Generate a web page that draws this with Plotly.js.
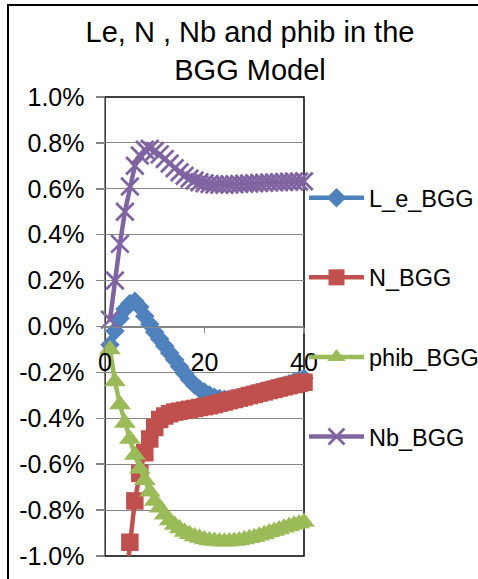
<!DOCTYPE html>
<html>
<head>
<meta charset="utf-8">
<script src="https://cdn.plot.ly/plotly-3.0.1.min.js"></script>
<style>
  html, body { margin: 0; padding: 0; background: #ffffff; }
  #chart { width: 478px; height: 579px; }
</style>
</head>
<body>
<div id="chart"></div>
<script>
// ---- data (values in percent) ----
const periods = [1,2,3,4,5,6,7,8,9,10,11,12,13,14,15,16,17,18,19,20,21,22,23,24,25,26,27,28,29,30,31,32,33,34,35,36,37,38,39,40];

const L_e_BGG = [-0.08,-0.02,0.035,0.075,0.10,0.11,0.085,0.045,0.01,-0.025,
                 -0.055,-0.085,-0.115,-0.145,-0.175,-0.205,-0.232,-0.255,-0.272,-0.285,
                 -0.298,-0.308,-0.314,-0.317,-0.317,-0.315,-0.310,-0.305,-0.299,-0.293,
                 -0.287,-0.281,-0.275,-0.269,-0.262,-0.256,-0.249,-0.241,-0.233,-0.225];

const N_BGG = [null,null,null,-1.15,-0.94,-0.76,-0.64,-0.55,-0.49,-0.44,
               -0.405,-0.39,-0.38,-0.373,-0.369,-0.365,-0.361,-0.357,-0.353,-0.349,
               -0.345,-0.340,-0.334,-0.329,-0.323,-0.318,-0.312,-0.307,-0.301,-0.296,
               -0.290,-0.285,-0.279,-0.274,-0.268,-0.263,-0.258,-0.253,-0.248,-0.243];

const phib_BGG = [-0.10,-0.24,-0.34,-0.42,-0.49,-0.56,-0.62,-0.67,-0.72,-0.76,
                  -0.79,-0.82,-0.845,-0.865,-0.88,-0.895,-0.905,-0.915,-0.922,-0.928,
                  -0.932,-0.935,-0.937,-0.938,-0.937,-0.935,-0.932,-0.928,-0.923,-0.918,
                  -0.912,-0.905,-0.898,-0.891,-0.884,-0.877,-0.870,-0.864,-0.858,-0.852];

const Nb_BGG = [0.03,0.20,0.36,0.50,0.61,0.70,0.745,0.77,0.775,0.765,
                0.75,0.73,0.71,0.69,0.672,0.657,0.645,0.636,0.629,0.624,
                0.621,0.619,0.618,0.618,0.619,0.620,0.621,0.622,0.623,0.624,
                0.625,0.626,0.627,0.628,0.629,0.630,0.631,0.632,0.632,0.633];

const seriesNames = ['L_e_BGG','N_BGG','phib_BGG','Nb_BGG'];
const yTickVals   = [-1.0,-0.8,-0.6,-0.4,-0.2,0.0,0.2,0.4,0.6,0.8,1.0];
const yTickLabels = ['-1.0%','-0.8%','-0.6%','-0.4%','-0.2%','0.0%','0.2%','0.4%','0.6%','0.8%','1.0%'];
const xTickVals   = [0,20,40];
const xTickLabels = ['0','20','40'];
const titleText = 'Le, N , Nb and phib in the<br>BGG Model';

// ---- styling ----
const FONT = 'Liberation Sans, Arial, Helvetica, sans-serif';
const W = 478, H = 579;
const M = {l: 105, r: 174, t: 97, b: 23};
const pw = W - M.l - M.r, ph = H - M.t - M.b;
const colors = ['#4F81BD','#C0504D','#9BBB59','#8064A2'];
const GRID = '#868686';

function mk(i, y, symbol, size, lineW) {
  return {
    type: 'scatter', mode: 'lines+markers',
    x: periods, y: y, name: seriesNames[i],
    legendgroup: 'g' + i,
    cliponaxis: false,
    line: {color: colors[i], width: 4.5},
    marker: {symbol: symbol, size: size, color: colors[i],
             line: {width: lineW || 0, color: colors[i]}}
  };
}

const traces = [
  mk(0, L_e_BGG, 'diamond', 15),
  mk(1, N_BGG, 'square', 17.5),
  mk(2, phib_BGG, 'triangle-up', 19),
  mk(3, Nb_BGG, 'x-thin', 17.5, 2.8)
];

// paper coordinate helpers
const px2x = p => (p - M.l) / pw;
const py2y = p => (H - M.b - p) / ph;

const layout = {
  width: W, height: H,
  margin: {l: M.l, r: M.r, t: M.t, b: M.b, autoexpand: false},
  paper_bgcolor: '#ffffff', plot_bgcolor: '#ffffff',
  font: {family: FONT, color: '#000000', size: 25},
  title: {
    text: titleText,
    font: {family: FONT, size: 29, color: '#000000'},
    x: 250 / W, xanchor: 'center',
    y: 1 - 42 / H, yanchor: 'top', yref: 'container'
  },
  showlegend: true,
  legend: {
    x: px2x(304), xanchor: 'left',
    y: py2y(176), yanchor: 'top',
    font: {family: FONT, size: 23.5, color: '#000000'},
    bgcolor: 'rgba(0,0,0,0)',
    traceorder: 'grouped',
    tracegroupgap: 46,
    itemwidth: 55,
    itemclick: false
  },
  xaxis: {
    range: [0, 40],
    anchor: 'free', position: 0.5,
    showline: true, linecolor: GRID, linewidth: 1.5,
    showgrid: false, zeroline: false,
    ticks: 'outside', ticklen: 5, tickcolor: GRID, tickwidth: 1.5,
    tickvals: xTickVals, ticktext: xTickLabels,
    tickfont: {family: FONT, size: 25, color: '#000000'},
    ticklabelstandoff: 8
  },
  yaxis: {
    range: [-1, 1],
    showline: true, linecolor: GRID, linewidth: 1.5,
    showgrid: true, gridcolor: GRID, gridwidth: 1,
    zeroline: false,
    ticks: 'outside', ticklen: 8, tickcolor: GRID, tickwidth: 1.5,
    tickvals: yTickVals, ticktext: yTickLabels,
    tickfont: {family: FONT, size: 25, color: '#000000'},
    ticklabelstandoff: 6
  },
  shapes: [
    {type: 'rect', xref: 'paper', yref: 'paper', x0: 0, x1: 1, y0: 0, y1: 1,
     line: {color: '#000000', width: 1.5}, fillcolor: 'rgba(0,0,0,0)', layer: 'between'},
    {type: 'rect', xref: 'paper', yref: 'paper',
     x0: px2x(8), x1: px2x(490), y0: py2y(595), y1: py2y(5),
     line: {color: '#000000', width: 2}, fillcolor: 'rgba(0,0,0,0)', layer: 'above'}
  ]
};

Plotly.newPlot('chart', traces, layout, {staticPlot: true, displayModeBar: false});
</script>
</body>
</html>
